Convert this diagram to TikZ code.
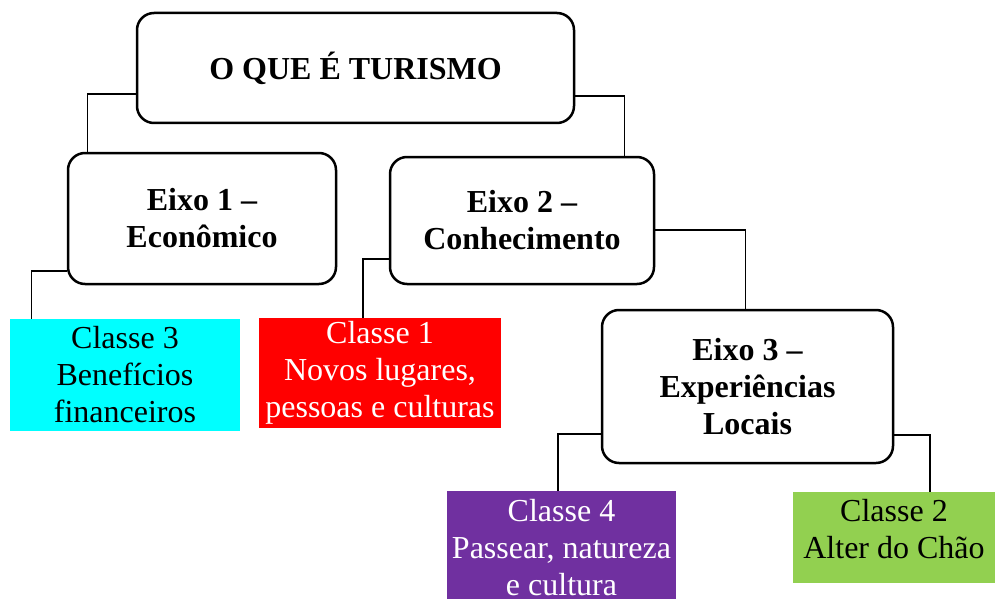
\documentclass[tikz,border=0pt]{standalone}
\usepackage{fontspec}
\setmainfont{Liberation Serif}
\definecolor{ciano}{HTML}{00FFFF}
\definecolor{vermelho}{HTML}{FF0000}
\definecolor{roxo}{HTML}{7030A0}
\definecolor{verde}{HTML}{92D050}
\begin{document}
\begin{tikzpicture}[
        x=1pt,
        y=-1pt,
        eixo/.style={
            rectangle,
            rounded corners=17pt,
            draw=black,
            fill=white,
            line width=2.5pt,
            align=center,
            inner sep=0pt,
            font=\fontsize{32}{37}\selectfont\bfseries
        },
        classe/.style={
            rectangle,
            align=center,
            inner sep=0pt,
            font=\fontsize{32}{37}\selectfont
        },
        liga/.style={line width=1.2pt}
    ]
    \useasboundingbox (0,0) rectangle (995,599);

    % Caixas
    \node[eixo, minimum width=437pt, minimum height=110pt] (raiz)  at (355.5,68)  {O QUE É TURISMO};
    \node[eixo, minimum width=268pt, minimum height=131pt] (eixo1) at (202,218.5)  {Eixo 1 –\\Econômico};
    \node[eixo, minimum width=264pt, minimum height=127pt] (eixo2) at (522,220.5)  {Eixo 2 –\\Conhecimento};
    \node[eixo, minimum width=291pt, minimum height=153pt] (eixo3) at (747.5,386.5) {Eixo 3 –\\Experiências\\Locais};

    \node[classe, fill=ciano, text=black, minimum width=230pt, minimum height=112pt] (c3) at (125,375)    {Classe 3\\Benefícios\\financeiros};
    \node[classe, fill=vermelho, text=white, minimum width=242pt, minimum height=110pt] (c1) at (380,373) {Classe 1\\Novos lugares,\\pessoas e culturas};
    \node[classe, fill=roxo, text=white, minimum width=229pt, minimum height=113pt] (c4) at (561.5,547.5) {Classe 4\\Passear, natureza\\e cultura};
    \node[classe, fill=verde, text=black, minimum width=202pt, text height=66pt, text depth=25pt] (c2) at (894,537.5) {Classe 2\\Alter do Chão};

    % Ligações
    \draw[liga] ([yshift=-26pt]raiz.west) -| ([xshift=21pt]eixo1.north west);
    \draw[liga] ([yshift=-28pt]raiz.east) -| ([xshift=-31pt]eixo2.north east);
    \draw[liga] ([yshift=-52.5pt]eixo1.west) -| ([xshift=22pt]c3.north west);
    \draw[liga] ([yshift=-38.5pt]eixo2.west) -| ([xshift=-17pt]c1.north);
    \draw[liga] ([yshift=-9.5pt]eixo2.east) -| ([xshift=-2pt]eixo3.north);
    \draw[liga] ([yshift=-47.5pt]eixo3.west) -| ([xshift=-3.5pt]c4.north);
    \draw[liga] ([yshift=-48.5pt]eixo3.east) -| ([xshift=36pt]c2.north);

\end{tikzpicture}
\end{document}
